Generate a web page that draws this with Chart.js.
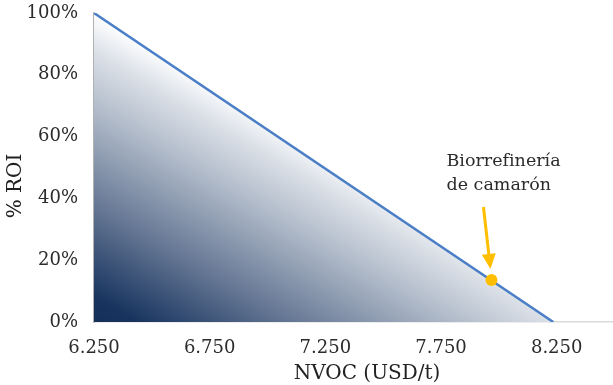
<!DOCTYPE html>
<html lang="es">
<head>
<meta charset="utf-8">
<title>NVOC vs % ROI</title>
<script src="https://cdn.jsdelivr.net/npm/chart.js@4/dist/chart.umd.min.js"></script>
<style>
  html, body { margin: 0; padding: 0; background: #ffffff; overflow: hidden; width: 613px; height: 385px; }
  #wrap { width: 646px; height: 385px; }
</style>
</head>
<body>
<div id="wrap"><canvas id="chart" width="646" height="385"></canvas></div>
<script>
// NVOC (USD/t) against % ROI: break-even line and the shrimp biorefinery case
const nvoc = [6250, 8235];
const roi = [100, 0];
const plantNvoc = [7968];
const plantRoi = [13.6];
const plantLabel = ['Biorrefinería', 'de camarón'];
const xTicks = [6250, 6750, 7250, 7750, 8250];
const yTicks = [0, 20, 40, 60, 80, 100];
const xTitle = 'NVOC (USD/t)';
const yTitle = '% ROI';

const FONT = "Georgia, 'DejaVu Serif', serif";
const TEXT = '#2b2b2b';
const LINE = '#4a7ec6';
const GOLD = '#ffbf00';

function fmtThousands(v) {
  return String(Math.round(v)).replace(/\B(?=(\d{3})+(?!\d))/g, '.');
}

// Shade the area under the line: navy at the lower-left corner, fading to white at the top of the line
function areaGradient(context) {
  const chart = context.chart;
  const { ctx, chartArea, scales } = chart;
  if (!chartArea) return 'rgba(0,0,0,0)';
  const x0 = scales.x.getPixelForValue(nvoc[0]);
  const y0 = scales.y.getPixelForValue(0);
  const yTop = scales.y.getPixelForValue(roi[0]);
  const ang = 59.4 * Math.PI / 180;
  const ux = Math.cos(ang), uy = -Math.sin(ang);
  const len = (y0 - yTop) * Math.sin(ang);
  const g = ctx.createLinearGradient(x0, y0, x0 + ux * len, y0 + uy * len);
  g.addColorStop(0, '#14305a');
  g.addColorStop(0.08, '#17335e');
  g.addColorStop(0.4, '#6b7c98');
  g.addColorStop(0.7, '#b3bdcb');
  g.addColorStop(0.88, '#dce1e8');
  g.addColorStop(1, '#ffffff');
  return g;
}

// Axis titles and the pointer to the biorefinery point
const annotations = {
  id: 'annotations',
  afterDatasetsDraw(chart) {
    const { ctx, chartArea, scales } = chart;
    ctx.save();
    ctx.fillStyle = '#222222';
    ctx.font = '20px ' + FONT;
    ctx.textAlign = 'center';
    ctx.textBaseline = 'middle';
    ctx.fillText(xTitle, (chartArea.left + chartArea.right) / 2, 374);
    ctx.save();
    ctx.translate(16, 186);
    ctx.rotate(-Math.PI / 2);
    ctx.fillText(yTitle, 0, 0);
    ctx.restore();

    const px = scales.x.getPixelForValue(plantNvoc[0]);
    const py = scales.y.getPixelForValue(plantRoi[0]);
    // arrow
    const tx = px - 1, ty = py - 11;
    const sx = px - 8, sy = py - 73;
    const ang = Math.atan2(ty - sy, tx - sx);
    const headLen = 15, headHalf = 7;
    const bxp = tx - Math.cos(ang) * headLen, byp = ty - Math.sin(ang) * headLen;
    ctx.strokeStyle = GOLD;
    ctx.fillStyle = GOLD;
    ctx.lineWidth = 3;
    ctx.beginPath();
    ctx.moveTo(sx, sy);
    ctx.lineTo(bxp, byp);
    ctx.stroke();
    ctx.beginPath();
    ctx.moveTo(tx, ty);
    ctx.lineTo(bxp + Math.sin(ang) * headHalf, byp - Math.cos(ang) * headHalf);
    ctx.lineTo(bxp - Math.sin(ang) * headHalf, byp + Math.cos(ang) * headHalf);
    ctx.closePath();
    ctx.fill();
    // label
    ctx.fillStyle = TEXT;
    ctx.font = '17.5px ' + FONT;
    ctx.textAlign = 'left';
    ctx.fillText(plantLabel[0], px - 45, py - 119);
    ctx.fillText(plantLabel[1], px - 45, py - 95);
    ctx.restore();
  }
};

new Chart(document.getElementById('chart'), {
  type: 'scatter',
  data: {
    datasets: [
      {
        label: 'Biorrefinería de camarón',
        data: plantNvoc.map((x, i) => ({ x, y: plantRoi[i] })),
        pointRadius: 6,
        pointBackgroundColor: GOLD,
        pointBorderColor: GOLD,
        pointBorderWidth: 0,
        showLine: false,
        order: 0
      },
      {
        label: '% ROI',
        data: nvoc.map((x, i) => ({ x, y: roi[i] })),
        showLine: true,
        borderColor: LINE,
        borderWidth: 2.5,
        pointRadius: 0,
        fill: 'origin',
        backgroundColor: areaGradient,
        order: 1
      }
    ]
  },
  options: {
    responsive: false,
    animation: false,
    layout: { padding: { top: 0, right: 0, bottom: 0, left: 0 } },
    plugins: { legend: { display: false }, tooltip: { enabled: false } },
    scales: {
      x: {
        type: 'linear',
        min: 6250,
        max: 8610,
        afterBuildTicks: (s) => { s.ticks = xTicks.map(v => ({ value: v })); },
        afterFit: (s) => { s.height = 63; },
        grid: { display: false, drawTicks: false },
        border: { display: true, color: '#d9d9d9', width: 1.5 },
        ticks: {
          padding: 16,
          color: TEXT,
          font: { family: FONT, size: 18 },
          callback: (v) => fmtThousands(v)
        }
      },
      y: {
        min: 0,
        max: 100,
        afterBuildTicks: (s) => { s.ticks = yTicks.map(v => ({ value: v })); },
        afterFit: (s) => { s.width = 94; s.paddingTop = 13; s.paddingBottom = 0; },
        grid: { display: false, drawTicks: false },
        border: { display: true, color: '#b0b0b0', width: 1.5 },
        ticks: {
          padding: 16,
          color: TEXT,
          font: { family: FONT, size: 18 },
          callback: (v) => v + '%'
        }
      }
    }
  },
  plugins: [annotations]
});
</script>
</body>
</html>
